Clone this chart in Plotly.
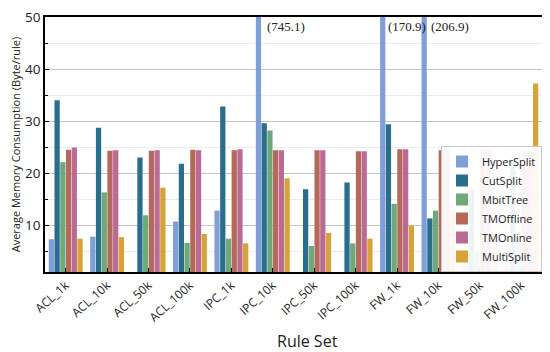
import plotly.graph_objects as go

categories = ["ACL_1k", "ACL_10k", "ACL_50k", "ACL_100k", "IPC_1k", "IPC_10k",
              "IPC_50k", "IPC_100k", "FW_1k", "FW_10k", "FW_50k", "FW_100k"]

hypersplit = [7.3, 7.8, 0.8, 10.7, 12.8, 745.1, 0.8, 0.8, 170.9, 206.9, 5.0, 5.0]
cutsplit   = [34.0, 28.7, 23.0, 21.8, 32.8, 29.6, 16.9, 18.2, 29.4, 11.3, 16.8, 22.7]
mbittree   = [22.1, 16.3, 11.9, 6.6, 7.4, 28.2, 6.0, 6.5, 14.1, 12.8, 5.0, 7.0]
tmoffline  = [24.5, 24.3, 24.3, 24.5, 24.4, 24.4, 24.4, 24.2, 24.6, 24.4, 24.5, 24.2]
tmonline   = [24.9, 24.4, 24.4, 24.4, 24.6, 24.4, 24.4, 24.2, 24.6, 24.6, 24.7, 24.4]
multisplit = [7.4, 7.7, 17.2, 8.3, 6.5, 19.0, 8.5, 7.4, 9.9, 13.0, 8.0, 37.2]

series_names = ["HyperSplit", "CutSplit", "MbitTree", "TMOffline", "TMOnline", "MultiSplit"]
series_values = [hypersplit, cutsplit, mbittree, tmoffline, tmonline, multisplit]
colors = ["#7f9fd6", "#2b6d8c", "#6eaa79", "#b5695a", "#bb6a93", "#d6a33a"]

# labels for clipped bars
clip_cats = ["IPC_10k", "FW_1k", "FW_10k"]
clip_labels = ["(745.1)", "(170.9)", "(206.9)"]

fig = go.Figure()
for name, vals, col in zip(series_names, series_values, colors):
    fig.add_trace(go.Bar(x=categories, y=vals, name=name, marker_color=col,
                         marker_line_width=0))

for c, lab, xs in zip(clip_cats, clip_labels, [-8, -11, -9]):
    fig.add_annotation(x=c, y=48.2, text=lab, showarrow=False, xanchor="left",
                       xshift=xs, font=dict(family="Liberation Serif, Times New Roman",
                                            size=13, color="#222"))

# x-axis title placed as annotation (it sits slightly right of centre in the reference)
fig.add_annotation(x=0.529, y=0, xref="paper", yref="paper", text="Rule Set",
                   showarrow=False, xanchor="center", yanchor="middle", yshift=-69,
                   font=dict(size=16, color="#222"))

# page body has an 8px default margin, so the figure is sized/offset to compensate
fig.update_layout(
    width=542, height=344,
    margin=dict(l=37, r=8, t=9, b=80),
    paper_bgcolor="white", plot_bgcolor="white",
    barmode="group", bargap=0.17, bargroupgap=0.08,
    font=dict(family="Open Sans, Lato, sans-serif", color="#222"),
    legend=dict(x=1, y=0, xanchor="right", yanchor="bottom",
                bgcolor="rgba(255,255,255,0.92)", bordercolor="#c8c8c8", borderwidth=1,
                font=dict(size=11), tracegroupgap=0, itemsizing="constant"),
    xaxis=dict(showline=True, linecolor="black", linewidth=1.5, mirror=True,
               ticks="inside", ticklen=4, tickcolor="black", tickangle=-42,
               tickfont=dict(size=12), automargin=False),
    yaxis=dict(range=[1, 50], tick0=0, dtick=10, showline=True, linecolor="black",
               linewidth=1.5, mirror=True, ticks="inside", ticklen=4, tickcolor="black",
               showgrid=True, gridcolor="#c4c4c4", gridwidth=1,
               tickfont=dict(size=13.5), ticklabeloverflow="allow", automargin=False,
               minor=dict(dtick=5, tick0=0, showgrid=True, gridcolor="#ececec",
                          ticks="inside", ticklen=3, tickcolor="black"),
               title=dict(text="Average Memory Consumption (Byte/rule)",
                          font=dict(size=11), standoff=4)),
)

fig.write_html("out.html")
